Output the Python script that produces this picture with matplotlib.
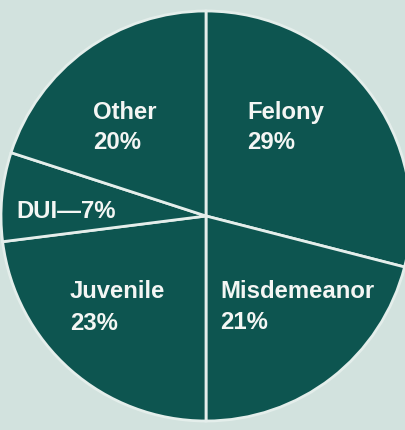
import matplotlib
matplotlib.use("Agg")
import matplotlib.pyplot as plt

categories = ["Felony", "Misdemeanor", "Juvenile", "DUI", "Other"]
shares = [29, 21, 23, 7, 20]

W, H = 406, 430
fig = plt.figure(figsize=(W / 100, H / 100), dpi=100)
fig.patch.set_facecolor("#d2e2de")
ax = fig.add_axes([0, 0, 1, 1])
ax.set_xlim(0, W)
ax.set_ylim(0, H)
ax.set_aspect("equal")
ax.axis("off")

ax.pie(shares, startangle=90, counterclock=False, center=(206, H - 216), radius=205,
       colors=["#0d5550"] * len(shares),
       wedgeprops=dict(edgecolor="#e4eeeb", linewidth=2.0))
ax.set_xlim(0, W)
ax.set_ylim(0, H)

font = dict(family=["Liberation Sans", "DejaVu Sans"], fontweight="bold", fontsize=17.2,
            color="#f4f6f4", ha="left", va="baseline")

# (name line, pct line) placements in image pixel coords: x, baseline y
layout = {
    "Felony": [(247, 119), (247, 149)],
    "Misdemeanor": [(220, 298), (220, 329)],
    "Juvenile": [(70, 298), (70, 330)],
    "Other": [(93, 119), (93, 149)],
}
for name, val in zip(categories, shares):
    if name == "DUI":
        ax.text(16, H - 218, f"{name}\u2014{val}%", **font)
        continue
    (x1, y1), (x2, y2) = layout[name]
    ax.text(x1, H - y1, name, **font)
    ax.text(x2, H - y2, f"{val}%", **font)

fig.savefig("out.png", dpi=100, facecolor=fig.get_facecolor())
